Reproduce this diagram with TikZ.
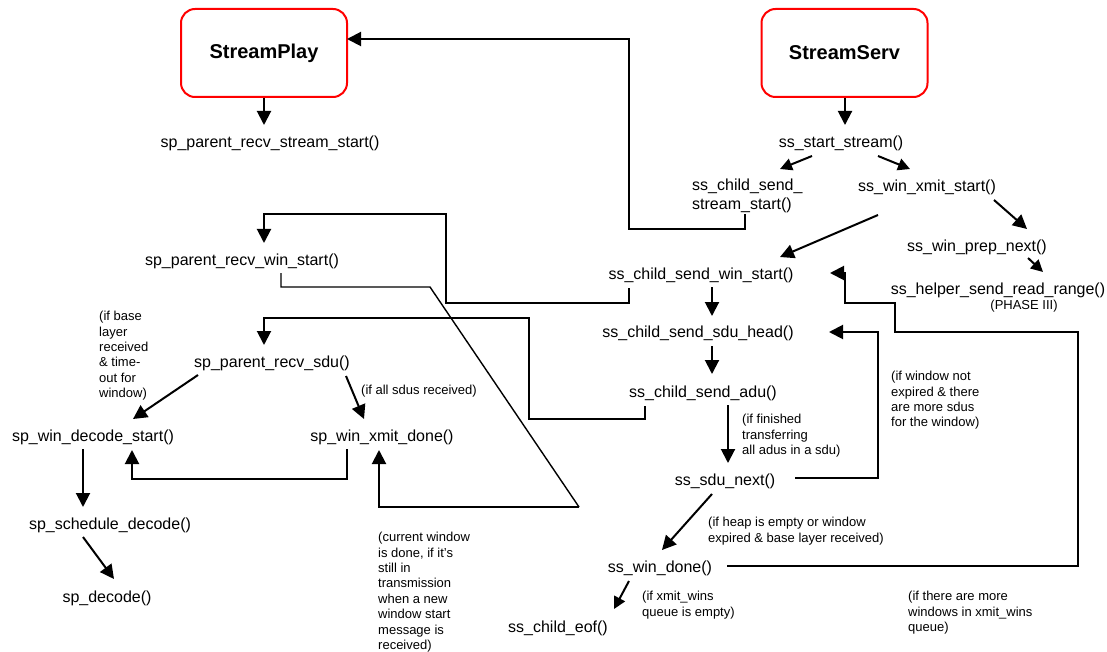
\documentclass[tikz,border=0pt]{standalone}
\usepackage{fontspec}
\setmainfont{Liberation Sans}
\usetikzlibrary{arrows.meta}
\begin{document}
\begin{tikzpicture}[x=1pt,y=-1pt,
  fn/.style={inner sep=0pt, font=\fontsize{16}{19}\selectfont},
  fnblock/.style={fn, anchor=north west, align=left},
  note/.style={inner sep=0pt, anchor=north west, align=left, font=\fontsize{13}{15.4}\selectfont},
  procbox/.style={draw=red, line width=2pt, rounded corners=14pt, minimum width=166pt,
                  minimum height=88pt, font=\fontsize{20}{24}\selectfont\bfseries},
  link/.style={line width=2pt},
  thinlink/.style={line width=1.4pt},
  arr/.style={link, -{Triangle[length=14pt,width=14pt]}},
  sarr/.style={link, -{Triangle[length=12pt,width=12pt]}},
]
\fill[white] (0,0) rectangle (1107,652);
\useasboundingbox (0,0) rectangle (1107,652);

% processes
\node[procbox] (play) at (264,53) {StreamPlay};
\node[procbox] (serv) at (844.5,53) {StreamServ};

% StreamPlay side
\node[fn] (sprss)  at (270,143) {sp\_parent\_recv\_stream\_start()};
\node[fn] (sprws)  at (242,261) {sp\_parent\_recv\_win\_start()};
\node[fn] (sprsdu) at (272,363) {sp\_parent\_recv\_sdu()};
\node[fn] (spwds)  at (93,437)  {sp\_win\_decode\_start()};
\node[fn] (spwxd)  at (382,437) {sp\_win\_xmit\_done()};
\node[fn] (spsd)   at (110,525) {sp\_schedule\_decode()};
\node[fn] (spd)    at (107,598) {sp\_decode()};

% StreamServ side
\node[fn] (ssss)   at (841,143) {ss\_start\_stream()};
\node[fnblock] (sscsss) at (692,179) {ss\_child\_send\_\\stream\_start()};
\node[fn] (ssxs)   at (927,187) {ss\_win\_xmit\_start()};
\node[fn] (sswpn)  at (977,247) {ss\_win\_prep\_next()};
\node[fn] (sscsws) at (701,275) {ss\_child\_send\_win\_start()};
\node[fn] (sshsrr) at (998,290) {ss\_helper\_send\_read\_range()};
\node[note, anchor=center] (phase) at (1024,306) {(PHASE III)};
\node[fn] (sssh)   at (698,333) {ss\_child\_send\_sdu\_head()};
\node[fn] (ssca)   at (703,393) {ss\_child\_send\_adu()};
\node[fn] (sssn)   at (725,481) {ss\_sdu\_next()};
\node[fn] (sswd)   at (660,568) {ss\_win\_done()};
\node[fn] (ssce)   at (558,628) {ss\_child\_eof()};

% conditions
\node[note] (nbase) at (99,311) {(if base\\layer\\received\\\& time-\\out for\\window)};
\node[note, anchor=west] (nall) at (361,391) {(if all sdus received)};
\node[note] (ncur) at (378,532) {(current window\\ is done, if it's\\ still in\\ transmission\\ when a new\\ window start\\ message is\\ received)};
\node[note] (nfin) at (742,414) {(if finished\\ transferring\\ all adus in a sdu)};
\node[note] (nwin) at (891,371) {(if window not\\ expired \& there\\ are more sdus\\ for the window)};
\node[note] (nheap) at (708,517) {(if heap is empty or window\\ expired \& base layer received)};
\node[note] (nq) at (642,591) {(if xmit\_wins\\ queue is empty)};
\node[note] (nmore) at (908,591) {(if there are more\\ windows in xmit\_wins\\ queue)};

% arrow ends and bends
\coordinate (playin)  at (347,39);
\coordinate (wsin)    at (830,273);
\coordinate (shin)    at (829,332);

% connectors
\draw[arr] (play.south -| 264,0) -- (264,125);
\draw[arr] (serv.south -| 845,0) -- (845,125);
\draw[sarr] (812,156) -- (780,169);
\draw[sarr] (878,156) -- (910,169);
\draw[arr] (745,214) -- (745,229) -- (629,229) -- (629,39) -- (playin);
\draw[arr] (878,215) -- (780,257);
\draw[arr] (994,200) -- (1027,229);
\draw[sarr] (1028,258) -- (1043,272);
\draw[arr] (712,287) -- (712,316);
\draw[arr] (629,288) -- (629,303) -- (446,303) -- (446,214) -- (264,214) -- (264,243);
\draw[thinlink] (281,273) -- (281,287) -- (430,287) -- (579,507);
\draw[arr] (579,507) -- (379,507) -- (379,450);
\draw[arr] (645,406) -- (645,419) -- (529,419) -- (529,318) -- (264,318) -- (264,345);
\draw[arr] (198,375) -- (133,419);
\draw[arr] (346,376) -- (364,419);
\draw[arr] (83,449) -- (83,507);
\draw[arr] (347,449) -- (347,479) -- (132,479) -- (132,450);
\draw[arr] (83,537) -- (114,579);
\draw[arr] (712,346) -- (712,374);
\draw[arr] (728,405) -- (728,463);
\draw[arr] (795,478) -- (878,478) -- (878,332) -- (shin);
\draw[arr] (712,494) -- (662,550);
\draw[arr] (727,566) -- (1078,566) -- (1078,332) -- (895,332) -- (895,303) -- (845,303) -- (845,273) -- (wsin);
\draw[sarr] (629,581) -- (614,609);
\end{tikzpicture}
\end{document}
